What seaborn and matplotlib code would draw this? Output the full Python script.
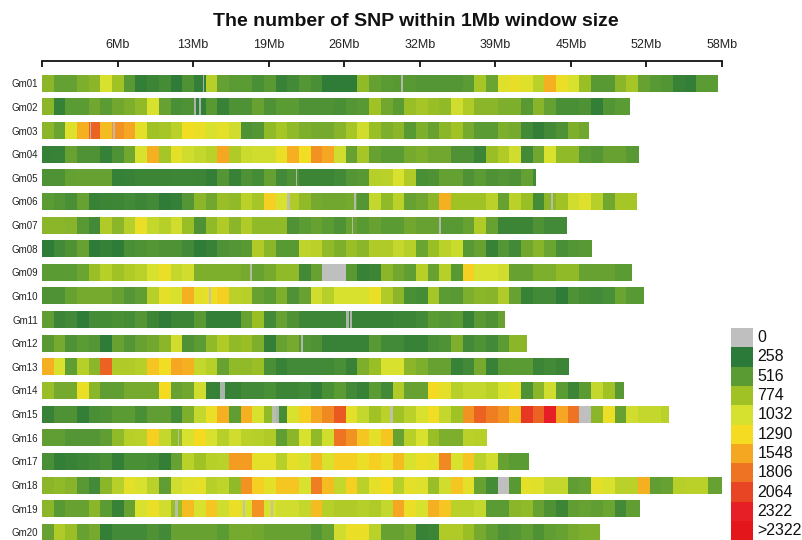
import numpy as np
import matplotlib
matplotlib.use("Agg")
import matplotlib.pyplot as plt
from matplotlib.colors import Normalize
import seaborn as sns

# ---------------------------------------------------------------------------
# SNP counts per 1 Mb window, one list per chromosome
# ---------------------------------------------------------------------------
chromosomes = ["Gm%02d" % i for i in range(1, 21)]
chrom_length_mb = [57.9, 50.3, 46.8, 51.1, 42.3, 50.9, 44.9, 47.1, 50.5, 51.5,
                   39.6, 41.5, 45.1, 49.8, 53.7, 38.1, 41.7, 58.2, 51.2, 47.8]

gm01 = [700, 550, 550, 650, 700, 1050, 780, 500, 300, 350, 400, 280, 450, 300, 880, 550,
        520, 520, 420, 500, 330, 380, 480, 420, 280, 280, 280, 720, 550, 520, 500,
        500, 480, 480, 480, 480, 520, 800, 580, 1100, 1180, 1100, 900, 1500, 1200, 1050,
        750, 500, 500, 700, 800, 560, 500, 470, 330, 300, 520, 520]
gm02 = [700, 320, 520, 520, 600, 520, 600, 650, 720, 1050, 560, 420, 450, 300, 500, 330,
        450, 450, 560, 450, 520, 520, 450, 450, 450, 420, 480, 500, 780, 600, 520,
        750, 800, 750, 720, 1000, 850, 700, 700, 650, 650, 500, 680, 550, 420, 420, 450,
        300, 470, 520, 520]
gm03 = [700, 580, 1100, 1500, 1900, 1450, 1650, 1550, 1150, 780, 800, 900, 1250, 1200, 1050,
        1150, 1000, 450, 480, 720, 800, 720, 650, 620, 620, 680, 800, 1000, 750, 650, 700,
        500, 650, 560, 700, 780, 620, 520, 520, 650, 620, 380, 300, 380, 450, 650, 600]
gm04 = [320, 330, 560, 450, 450, 320, 450, 600, 1050, 1500, 800, 1150, 1000, 950, 900, 1550,
        850, 980, 1000, 1000, 1200, 1500, 1250, 1650, 1550, 1000, 560, 800, 560, 520, 520,
        620, 650, 600, 600, 450, 450, 350, 750, 850, 1000, 380, 600, 1050, 720, 720, 520,
        480, 560, 560, 500, 500]
gm05 = [450, 450, 550, 560, 560, 560, 320, 330, 350, 350, 350, 360, 360, 350, 300, 480,
        330, 450, 400, 550, 380, 450, 350, 350, 350, 380, 480, 500, 880, 900, 1050,
        850, 420, 450, 550, 550, 450, 520, 450, 480, 450, 550, 380]
gm06 = [520, 480, 420, 560, 330, 350, 360, 380, 350, 380, 280, 310, 480, 700, 600, 750,
        720, 900, 800, 1350, 1050, 850, 720, 620, 600, 600, 620, 480, 950, 720, 900,
        560, 600, 700, 1500, 780, 780, 780, 900, 560, 900, 750, 400, 700, 780, 1000, 1100,
        880, 600, 800, 800]
gm07 = [700, 700, 680, 500, 380, 850, 700, 880, 1200, 950, 880, 1000, 750, 450, 720, 850,
        700, 850, 720, 720, 720, 450, 520, 560, 520, 450, 560, 500, 560, 520, 520,
        600, 560, 560, 500, 500, 560, 850, 560, 350, 350, 350, 450, 380, 380]
gm08 = [280, 380, 450, 560, 280, 320, 280, 420, 450, 480, 450, 450, 380, 280, 330, 450,
        480, 500, 850, 700, 500, 500, 920, 900, 720, 650, 750, 700, 850, 850, 950,
        880, 580, 750, 900, 980, 500, 560, 330, 480, 380, 600, 680, 580, 420, 480, 500, 500]
gm09 = [520, 520, 520, 580, 750, 880, 780, 850, 900, 1050, 1200, 950, 1000, 650, 650, 650,
        650, 620, 560, 620, 720, 720, 380, 560, 0, 0, 500, 330, 350, 700, 600,
        540, 880, 560, 880, 500, 1350, 1050, 1050, 1000, 560, 560, 650, 650, 720, 720, 560,
        560, 560, 520, 520]
gm10 = [450, 450, 560, 620, 620, 620, 560, 480, 540, 880, 1150, 1050, 1500, 1150, 1200, 1350,
        900, 880, 560, 520, 650, 450, 560, 1000, 880, 1050, 1050, 1050, 1200, 850, 700,
        420, 400, 800, 520, 500, 650, 700, 680, 850, 560, 330, 380, 380, 280, 450, 400,
        380, 420, 580, 500, 500]
gm11 = [540, 350, 380, 280, 400, 400, 420, 400, 480, 350, 280, 350, 350, 500, 300, 300,
        300, 560, 750, 380, 560, 450, 360, 360, 360, 360, 330, 330, 330, 330, 350,
        350, 380, 520, 480, 520, 330, 500, 450, 560]
gm12 = [500, 620, 450, 520, 480, 280, 560, 480, 560, 600, 700, 1000, 450, 520, 720, 850,
        720, 750, 650, 300, 560, 620, 480, 450, 330, 330, 330, 330, 500, 380, 380,
        330, 330, 420, 450, 650, 380, 450, 380, 520, 700, 700]
gm13 = [1500, 1050, 540, 880, 700, 1900, 850, 850, 880, 1400, 1250, 1550, 1500, 950, 880, 560,
        720, 720, 750, 420, 330, 380, 380, 380, 380, 420, 330, 650, 750, 1050, 1050,
        700, 650, 560, 560, 330, 380, 620, 330, 500, 520, 520, 350, 380, 350, 350]
gm14 = [750, 620, 620, 1200, 700, 540, 540, 620, 620, 620, 1300, 560, 600, 1000, 330, 320,
        330, 380, 380, 420, 350, 350, 380, 300, 420, 520, 380, 330, 520, 380, 850,
        560, 560, 1300, 1150, 880, 950, 950, 900, 1050, 1150, 450, 700, 1000, 520, 350, 520,
        950, 780, 500]
gm15 = [330, 450, 450, 300, 420, 450, 520, 520, 420, 540, 540, 400, 650, 950, 1200, 1500,
        540, 1500, 1050, 720, 400, 1050, 1350, 1550, 1700, 1950, 1150, 950, 780, 900, 780,
        900, 1050, 1250, 950, 780, 1650, 1900, 1750, 1650, 1450, 2150, 1900, 2400, 1550, 1800,
        0, 700, 1200, 560, 1000, 950, 950, 900]
gm16 = [540, 540, 480, 480, 480, 540, 720, 880, 900, 1350, 950, 720, 1050, 1300, 1050, 880,
        1000, 900, 880, 850, 540, 700, 1050, 720, 1000, 1800, 1650, 1400, 1150, 1400, 560,
        880, 1050, 750, 650, 650, 900, 880, 880]
gm17 = [420, 300, 330, 350, 380, 420, 300, 420, 420, 400, 300, 560, 900, 780, 880, 900,
        1600, 1600, 1150, 1150, 880, 1150, 1050, 1450, 1050, 1350, 1350, 1200, 1350, 1200, 1450,
        1050, 1200, 1150, 1700, 1050, 1400, 900, 1000, 560, 520, 520]
gm18 = [700, 720, 680, 500, 380, 700, 880, 1150, 1050, 900, 540, 1000, 1100, 1150, 880, 920,
        720, 1650, 1350, 1150, 1400, 1400, 1050, 1750, 1450, 950, 1350, 900, 1150, 1300, 880,
        1150, 1100, 750, 1000, 1400, 1150, 560, 400, 0, 500, 1150, 1100, 950, 950, 540, 560,
        1150, 1050, 900, 900, 1500, 540, 560, 880, 900, 900, 560, 560]
gm19 = [700, 500, 560, 560, 700, 520, 330, 560, 1050, 1200, 1000, 750, 1450, 1050, 1400, 1000,
        1200, 1050, 1650, 1050, 1000, 1000, 950, 1450, 880, 850, 850, 880, 850, 950, 1550,
        1200, 1050, 1500, 1400, 900, 900, 950, 520, 520, 700, 720, 560, 450, 350, 540, 560,
        540, 580, 380, 540, 540]
gm20 = [560, 850, 750, 560, 620, 300, 380, 380, 380, 450, 380, 560, 560, 560, 560, 520,
        620, 620, 600, 560, 560, 560, 560, 480, 560, 1000, 1200, 1200, 900, 560, 560,
        620, 330, 350, 850, 850, 750, 620, 540, 450, 480, 540, 450, 540, 560, 620, 650, 650]

density = [gm01, gm02, gm03, gm04, gm05, gm06, gm07, gm08, gm09, gm10,
           gm11, gm12, gm13, gm14, gm15, gm16, gm17, gm18, gm19, gm20]

# short stretches without SNPs: chromosome index, start (Mb), length (Mb)
gap_chrom = [0, 0, 1, 1, 2, 2, 4, 5, 5, 5, 6, 6, 8, 9, 10, 10, 11, 13, 14, 14, 15, 18, 18, 18]
gap_start = [13.75, 30.7, 13.05, 13.45, 4.1, 6.1, 21.7, 21.0, 26.7, 43.6, 26.5, 34.0,
             17.8, 14.3, 26.05, 26.4, 22.2, 15.2, 19.7, 29.8, 11.6, 11.4, 17.2, 19.6]
gap_width = [0.15, 0.2, 0.15, 0.15, 0.12, 0.12, 0.15, 0.2, 0.2, 0.15, 0.15, 0.15,
             0.2, 0.2, 0.2, 0.12, 0.12, 0.5, 0.6, 0.2, 0.12, 0.2, 0.2, 0.15]

# legend bins
legend_labels = ["0", "258", "516", "774", "1032", "1290", "1548", "1806", "2064", "2322", ">2322"]
legend_breaks = [258, 516, 774, 1032, 1290, 1548, 1806, 2064, 2322]
zero_color = "#bfbfbf"
bin_colors = ["#2c7a39", "#5b9b34", "#a0c225", "#d6e12f", "#f5dc22",
              "#f5a722", "#ee7322", "#e84524", "#e61e25"]
over_color = "#e3161c"

tick_labels = ["6Mb", "13Mb", "19Mb", "26Mb", "32Mb", "39Mb", "45Mb", "52Mb", "58Mb"]
title = "The number of SNP within 1Mb window size"
window_mb = 1.0

# ---------------------------------------------------------------------------
sns.set_theme(style="white")
plt.rcParams["font.family"] = ["Liberation Sans", "DejaVu Sans"]

cmap = sns.blend_palette(bin_colors, as_cmap=True)
norm = Normalize(vmin=legend_breaks[0], vmax=legend_breaks[-1], clip=True)


def window_color(count):
    if count == 0:
        return zero_color
    return cmap(norm(count))


W, H = 803, 540
fig = plt.figure(figsize=(W / 100, H / 100), dpi=100)
fig.patch.set_facecolor("white")

max_len = max(chrom_length_mb)
ax_top_px, ax_left_px, ax_right_px = 61, 42, 722
ax = fig.add_axes([ax_left_px / W, 0, (ax_right_px - ax_left_px) / W, 1 - ax_top_px / H])

row_px = 23.63
first_row_px = 83.3
top_units = -(first_row_px - ax_top_px) / row_px
bottom_units = top_units + (H - ax_top_px) / row_px
bar_h = 0.72

for row, (length, counts) in enumerate(zip(chrom_length_mb, density)):
    n = int(np.ceil(length / window_mb))
    counts = counts[:n]
    starts = np.arange(len(counts)) * window_mb
    widths = np.minimum(starts + window_mb, length) - starts
    colors = [window_color(c) for c in counts]
    ax.barh(row, widths, left=starts, height=bar_h, color=colors,
            linewidth=0, antialiased=False)

# thin SNP-free stretches inside the windows
ax.barh(gap_chrom, gap_width, left=gap_start, height=bar_h, color=zero_color,
        alpha=0.85, linewidth=0)

ax.set_xlim(0, max_len)
ax.set_ylim(bottom_units, top_units)

tick_pos = np.linspace(0, max_len, len(tick_labels) + 1)
ax.xaxis.tick_top()
ax.set_xticks(tick_pos)
ax.set_xticklabels([""] + tick_labels, fontsize=9, color="#222222")
ax.tick_params(axis="x", direction="in", length=4.5, width=1.3, color="#111111",
               pad=7, top=True, bottom=False)

ax.set_yticks(range(len(chromosomes)))
ax.set_yticklabels(chromosomes, fontsize=7, color="#222222")
ax.tick_params(axis="y", length=0, pad=3)

for side in ["left", "right", "bottom"]:
    ax.spines[side].set_visible(False)
ax.spines["top"].set_visible(True)
ax.spines["top"].set_linewidth(1.3)
ax.spines["top"].set_color("#111111")
ax.grid(False)
ax.set_facecolor("white")

fig.text(416 / W, 1 - 21.5 / H, title, ha="center", va="center",
         fontsize=14, fontweight="bold", color="#111111")

# legend column
leg_top_px, box_h_px = 328, 19.3
leg = fig.add_axes([731 / W, 0, 22 / W, 1 - leg_top_px / H])
leg_colors = [zero_color] + bin_colors + [over_color]
n_leg = len(legend_labels)
leg.barh(np.arange(n_leg), [1] * n_leg, left=0, height=1.0, color=leg_colors,
         linewidth=0, antialiased=False)
leg.set_xlim(0, 1)
leg_units = (H - leg_top_px) / box_h_px
leg.set_ylim(-0.5 + leg_units, -0.5)
leg.axis("off")
for i, lab in enumerate(legend_labels):
    leg.text(1.2, i, lab, ha="left", va="center", fontsize=11.5, color="#111111")

fig.savefig("out.png", dpi=100)
